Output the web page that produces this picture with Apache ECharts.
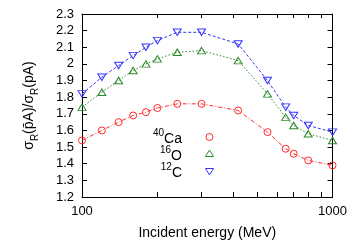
<!DOCTYPE html>
<html>
<head>
<meta charset="utf-8">
<script src="https://cdn.jsdelivr.net/npm/echarts@6/dist/echarts.min.js"></script>
<style>
html,body{margin:0;padding:0;background:#fff;}
#c{width:350px;height:245px;}
</style>
</head>
<body>
<div id="c"></div>
<script>
// Data
var energies = [100, 120, 140, 160, 180, 200, 240, 300, 420, 550, 650, 700, 800, 1000];
var ca40 = [1.54, 1.60, 1.65, 1.69, 1.71, 1.735, 1.76, 1.76, 1.72, 1.59, 1.49, 1.46, 1.42, 1.39];
var o16  = [1.74, 1.83, 1.90, 1.96, 2.00, 2.03, 2.07, 2.08, 2.02, 1.82, 1.68, 1.63, 1.58, 1.54];
var c12  = [1.82, 1.92, 1.99, 2.05, 2.10, 2.14, 2.19, 2.19, 2.12, 1.90, 1.74, 1.69, 1.63, 1.59];
var xTickValues = [100, 200, 300, 400, 500, 600, 700, 800, 900, 1000];
var xLabelValues = [100, 1000];
var seriesNames = ['40Ca', '16O', '12C'];

var FONT = 'Liberation Sans, Arial, Helvetica, sans-serif';
var RED = '#ff2a2a', GREEN = '#2a8a2a', BLUE = '#3535ff';

function pairs(ys) { return energies.map(function (e, i) { return [e, ys[i]]; }); }

var chart = echarts.init(document.getElementById('c'), null, { renderer: 'canvas' });

var axisCommon = {
  axisLine: { show: true, onZero: false, lineStyle: { color: '#000', width: 1 } },
  splitLine: { show: false }
};

var option = {
  animation: false,
  backgroundColor: '#fff',
  grid: { left: 82, right: 16.5, top: 14, bottom: 48, containLabel: false },
  xAxis: [
    Object.assign({}, axisCommon, {
      type: 'log', logBase: 10, min: 100, max: 1000, position: 'bottom',
      axisTick: { show: true, inside: true, length: 5, customValues: xTickValues, lineStyle: { color: '#000' } },
      axisLabel: { show: true, customValues: xLabelValues, color: '#000', fontSize: 13, fontFamily: FONT, margin: 8,
        formatter: function (v) { return String(Math.round(v)); } },
      minorTick: { show: false },
      name: 'Incident energy (MeV)', nameLocation: 'middle', nameGap: 29,
      nameTextStyle: { color: '#000', fontSize: 14, fontFamily: FONT }
    }),
    Object.assign({}, axisCommon, {
      type: 'log', logBase: 10, min: 100, max: 1000, position: 'top',
      axisTick: { show: true, inside: true, length: 4, customValues: xTickValues, lineStyle: { color: '#000' } },
      axisLabel: { show: false }
    })
  ],
  yAxis: [
    Object.assign({}, axisCommon, {
      type: 'value', min: 1.2, max: 2.3, interval: 0.1, position: 'left',
      axisTick: { show: true, inside: true, length: 5, lineStyle: { color: '#000' } },
      axisLabel: { color: '#000', fontSize: 13, fontFamily: FONT, margin: 8 },
      name: '{s|σ}{sub|R}{s|(p̄A)/σ}{sub|R}{s|(pA)}',
      nameLocation: 'middle', nameRotate: 90, nameGap: 42,
      nameTextStyle: {
        color: '#000', fontFamily: FONT,
        rich: {
          s: { fontSize: 14, fontFamily: FONT, color: '#000', verticalAlign: 'top', lineHeight: 18 },
          sub: { fontSize: 10, fontFamily: FONT, color: '#000', verticalAlign: 'bottom', lineHeight: 18 }
        }
      }
    }),
    Object.assign({}, axisCommon, {
      type: 'value', min: 1.2, max: 2.3, interval: 0.1, position: 'right',
      axisTick: { show: true, inside: true, length: 5, lineStyle: { color: '#000' } },
      axisLabel: { show: false }
    })
  ],
  series: [
    {
      name: seriesNames[0], type: 'line', data: pairs(ca40),
      symbol: 'circle', symbolSize: 7, showSymbol: true,
      lineStyle: { color: RED, width: 1, type: [4, 2, 1, 2] },
      itemStyle: { color: 'rgba(0,0,0,0)', borderColor: RED, borderWidth: 1 }
    },
    {
      name: seriesNames[1], type: 'line', data: pairs(o16),
      symbol: 'triangle', symbolSize: [8, 6.5], showSymbol: true,
      lineStyle: { color: GREEN, width: 1, type: [1.5, 2] },
      itemStyle: { color: 'rgba(0,0,0,0)', borderColor: GREEN, borderWidth: 1 }
    },
    {
      name: seriesNames[2], type: 'line', data: pairs(c12),
      symbol: 'triangle', symbolRotate: 180, symbolSize: [8, 6.5], showSymbol: true,
      lineStyle: { color: BLUE, width: 1, type: [3, 2] },
      itemStyle: { color: 'rgba(0,0,0,0)', borderColor: BLUE, borderWidth: 1 }
    }
  ],
  graphic: [
    { type: 'text', right: 350 - 182, top: 128, style: { text: '{sup|40}{n|Ca}', align: 'right', rich: {
      sup: { fontSize: 10, fontFamily: FONT, fill: '#000', verticalAlign: 'top' },
      n: { fontSize: 14, fontFamily: FONT, fill: '#000', verticalAlign: 'bottom', lineHeight: 18 } } } },
    { type: 'text', right: 350 - 182, top: 145, style: { text: '{sup|16}{n|O}', align: 'right', rich: {
      sup: { fontSize: 10, fontFamily: FONT, fill: '#000', verticalAlign: 'top' },
      n: { fontSize: 14, fontFamily: FONT, fill: '#000', verticalAlign: 'bottom', lineHeight: 18 } } } },
    { type: 'text', right: 350 - 182, top: 162, style: { text: '{sup|12}{n|C}', align: 'right', rich: {
      sup: { fontSize: 10, fontFamily: FONT, fill: '#000', verticalAlign: 'top' },
      n: { fontSize: 14, fontFamily: FONT, fill: '#000', verticalAlign: 'bottom', lineHeight: 18 } } } },
    { type: 'circle', shape: { cx: 209.5, cy: 137, r: 3.5 }, style: { fill: 'none', stroke: RED, lineWidth: 1 } },
    { type: 'polygon', shape: { points: [[209.5, 150], [213.5, 156.5], [205.5, 156.5]] }, style: { fill: 'none', stroke: GREEN, lineWidth: 1 } },
    { type: 'polygon', shape: { points: [[205.5, 168.5], [213.5, 168.5], [209.5, 175]] }, style: { fill: 'none', stroke: BLUE, lineWidth: 1 } }
  ]
};
chart.setOption(option);
</script>
</body>
</html>
